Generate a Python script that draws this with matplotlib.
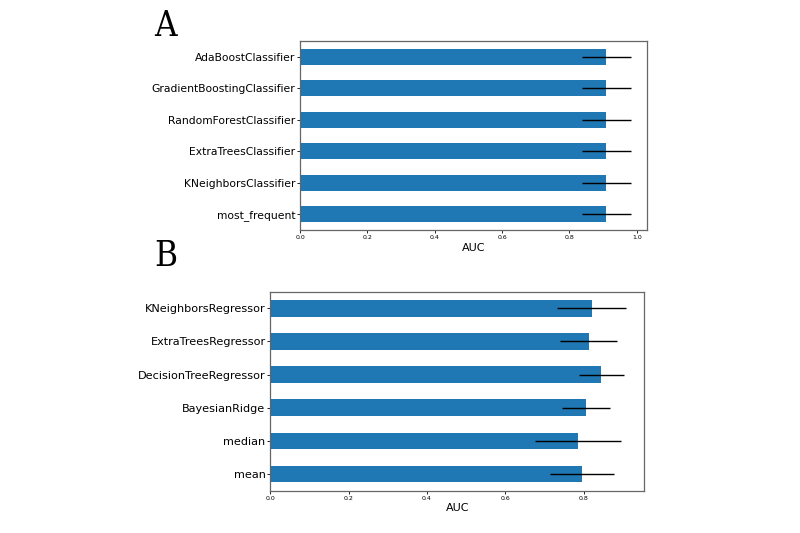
import numpy as np
import matplotlib
matplotlib.use('Agg')
import matplotlib.pyplot as plt

# panel A: classifiers (bottom to top)
clf_names = ['most_frequent', 'KNeighborsClassifier', 'ExtraTreesClassifier',
             'RandomForestClassifier', 'GradientBoostingClassifier', 'AdaBoostClassifier']
clf_auc = [0.909, 0.909, 0.909, 0.909, 0.909, 0.909]
clf_err = [0.073, 0.073, 0.073, 0.073, 0.073, 0.073]

# panel B: regressors (bottom to top)
reg_names = ['mean', 'median', 'BayesianRidge', 'DecisionTreeRegressor',
             'ExtraTreesRegressor', 'KNeighborsRegressor']
reg_auc = [0.795, 0.785, 0.805, 0.845, 0.813, 0.821]
reg_err = [0.082, 0.110, 0.061, 0.057, 0.073, 0.088]

xticks_a = [0.0, 0.2, 0.4, 0.6, 0.8, 1.0]
xticks_b = [0.0, 0.2, 0.4, 0.6, 0.8]

BAR_COLOR = '#1f77b4'


def draw_panel(ax, names, vals, errs, xmax, xticks, label_size):
    y = np.arange(len(names))
    ax.barh(y, vals, height=0.5, color=BAR_COLOR)
    ax.errorbar(vals, y, xerr=errs, fmt='none', ecolor='black', elinewidth=1.0, capsize=0)
    ax.set_ylim(-0.5, len(names) - 0.5)
    ax.set_xlim(0, xmax)
    ax.set_yticks(y)
    ax.set_yticklabels(names, fontsize=label_size)
    ax.set_xticks(xticks)
    ax.set_xticklabels([f'{t:.1f}' for t in xticks], fontsize=4.5)
    ax.set_xlabel('AUC', fontsize=8, labelpad=2)
    ax.tick_params(axis='y', length=2.5, width=0.6, pad=1)
    ax.tick_params(axis='x', length=2, width=0.6, pad=1.5)
    for s in ax.spines.values():
        s.set_color('#666666')
        s.set_linewidth(0.9)


fig = plt.figure(figsize=(8, 5.33), dpi=100)

ax_a = fig.add_axes([0.375, 0.5685, 0.434, 0.3546])
draw_panel(ax_a, clf_names, clf_auc, clf_err, 1.031, xticks_a, 7.75)

ax_b = fig.add_axes([0.338, 0.0794, 0.467, 0.3733])
draw_panel(ax_b, reg_names, reg_auc, reg_err, 0.954, xticks_b, 8.1)

letter_font = dict(family='DejaVu Serif', stretch='condensed', fontsize=25)
fig.text(0.193, 0.919, 'A', ha='left', va='bottom', **letter_font)
fig.text(0.193, 0.487, 'B', ha='left', va='bottom', **letter_font)

fig.savefig('out.png', dpi=100)
